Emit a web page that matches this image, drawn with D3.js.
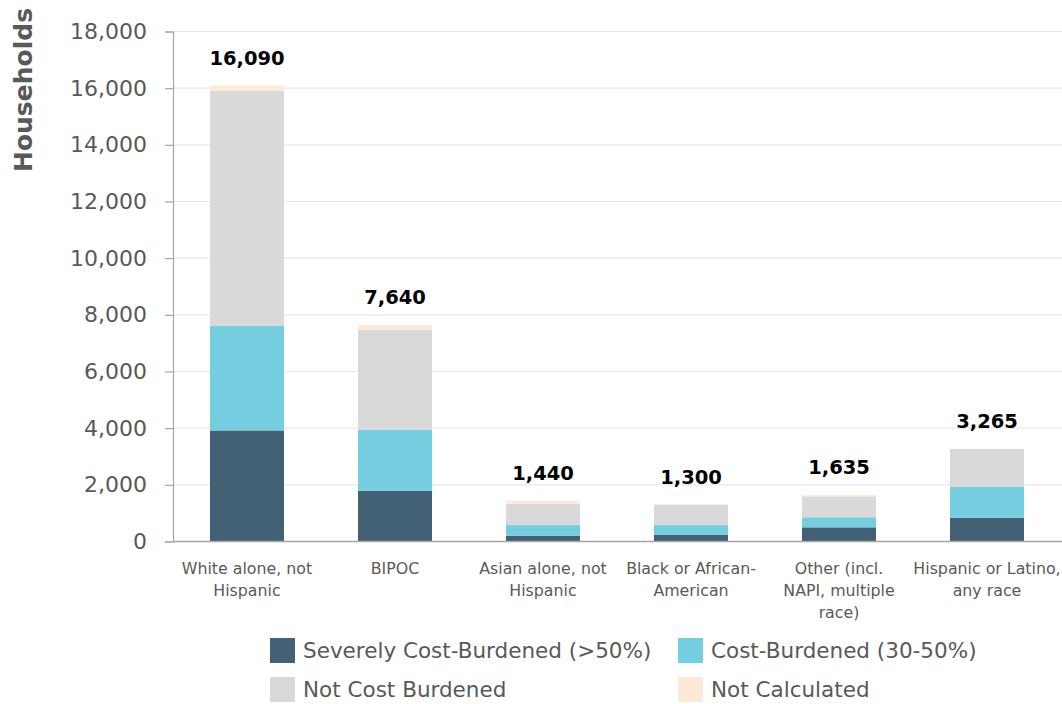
<!DOCTYPE html>
<html>
<head>
<meta charset="utf-8">
<script src="https://cdn.jsdelivr.net/npm/d3@7"></script>
<style>
  html, body { margin: 0; padding: 0; background: #fff; }
  svg { display: block; font-family: "DejaVu Sans", sans-serif; }
</style>
</head>
<body>
<svg id="chart" width="1062" height="704"></svg>
<script>
const categories = [
  ["White alone, not", "Hispanic"],
  ["BIPOC"],
  ["Asian alone, not", "Hispanic"],
  ["Black or African-", "American"],
  ["Other (incl.", "NAPI, multiple", "race)"],
  ["Hispanic or Latino,", "any race"]
];
const seriesNames = ["Severely Cost-Burdened (>50%)", "Cost-Burdened (30-50%)", "Not Cost Burdened", "Not Calculated"];
const severe       = [3920, 1795, 205, 240, 500, 840];
const costBurdened = [3700, 2140, 375, 340, 355, 1085];
const notBurdened  = [8280, 3540, 755, 720, 740, 1340];
const notCalc      = [190, 165, 105, 0, 40, 0];
const totals       = [16090, 7640, 1440, 1300, 1635, 3265];
const yTicks       = [0, 2000, 4000, 6000, 8000, 10000, 12000, 14000, 16000, 18000];
const colors       = ["#436175", "#74CEDF", "#D9D9D9", "#FCE9D8"];

(function () {
const svg = d3.select("#chart");
const mLeft = 173, mRight = 1061, mTop = 31.5, mBottom = 541.5;

const keys = categories.map((c, i) => "c" + i);
const x = d3.scaleBand().domain(keys).range([mLeft, mRight]).paddingInner(0.5).paddingOuter(0.25);
const y = d3.scaleLinear().domain([0, 18000]).range([mBottom, mTop]);

// gridlines
svg.append("g").selectAll("line").data(yTicks.filter(d => d > 0)).join("line")
  .attr("x1", mLeft).attr("x2", 1062)
  .attr("y1", d => y(d)).attr("y2", d => y(d))
  .attr("stroke", "#e8e8e8").attr("stroke-width", 1.2);

// y axis
const yAxis = d3.axisLeft(y).tickValues(yTicks).tickSize(8).tickPadding(18).tickFormat(d3.format(","));
const gy = svg.append("g").attr("transform", `translate(${mLeft},0)`).call(yAxis);
gy.select(".domain").attr("stroke", "#a6a6a6").attr("stroke-width", 1.2);
gy.selectAll(".tick line").attr("stroke", "#a6a6a6").attr("stroke-width", 1.2);
gy.selectAll(".tick text").attr("fill", "#595959").style("font-size", "22px").style("font-family", "DejaVu Sans");

// stacked data
const rows = keys.map((k, i) => ({ key: k, s0: severe[i], s1: costBurdened[i], s2: notBurdened[i], s3: notCalc[i] }));
const stack = d3.stack().keys(["s0", "s1", "s2", "s3"]);
const stacked = stack(rows);

svg.append("g").selectAll("g").data(stacked).join("g")
  .attr("fill", (d, i) => colors[i])
  .selectAll("rect").data(d => d).join("rect")
  .attr("x", d => x(d.data.key))
  .attr("width", x.bandwidth())
  .attr("y", d => y(d[1]))
  .attr("height", d => Math.max(0, y(d[0]) - y(d[1])));

// baseline
svg.append("line").attr("x1", mLeft).attr("x2", 1062).attr("y1", mBottom).attr("y2", mBottom)
  .attr("stroke", "#a6a6a6").attr("stroke-width", 1.5);

// total labels
svg.append("g").selectAll("text").data(keys).join("text")
  .attr("x", k => x(k) + x.bandwidth() / 2)
  .attr("y", (k, i) => y(totals[i]) - 21)
  .attr("text-anchor", "middle")
  .attr("fill", "#000")
  .style("font-size", "19.5px").style("font-weight", "bold")
  .text((k, i) => d3.format(",")(totals[i]));

// category labels
const cat = svg.append("g").selectAll("text").data(keys).join("text")
  .attr("x", k => x(k) + x.bandwidth() / 2)
  .attr("y", 574)
  .attr("text-anchor", "middle")
  .attr("fill", "#595959")
  .style("font-size", "15.8px");
cat.each(function(k, i) {
  const t = d3.select(this);
  categories[i].forEach((line, j) => {
    t.append("tspan").attr("x", x(k) + x.bandwidth() / 2).attr("dy", j === 0 ? 0 : 22).text(line);
  });
});

// y title
svg.append("text")
  .attr("transform", "translate(32,90) rotate(-90)")
  .attr("text-anchor", "middle")
  .attr("fill", "#595959")
  .style("font-size", "25px").style("font-weight", "bold")
  .text("Households");

// legend
const legendPos = [[270, 638], [678, 638], [270, 677], [678, 677]];
const lg = svg.append("g").selectAll("g").data(seriesNames).join("g")
  .attr("transform", (d, i) => `translate(${legendPos[i][0]},${legendPos[i][1]})`);
lg.append("rect").attr("width", 25).attr("height", 25).attr("fill", (d, i) => colors[i]);
lg.append("text").attr("x", 33).attr("y", 12.5).attr("dy", "0.35em")
  .attr("fill", "#595959").style("font-size", "21.5px").text(d => d);
})();
</script>
</body>
</html>
